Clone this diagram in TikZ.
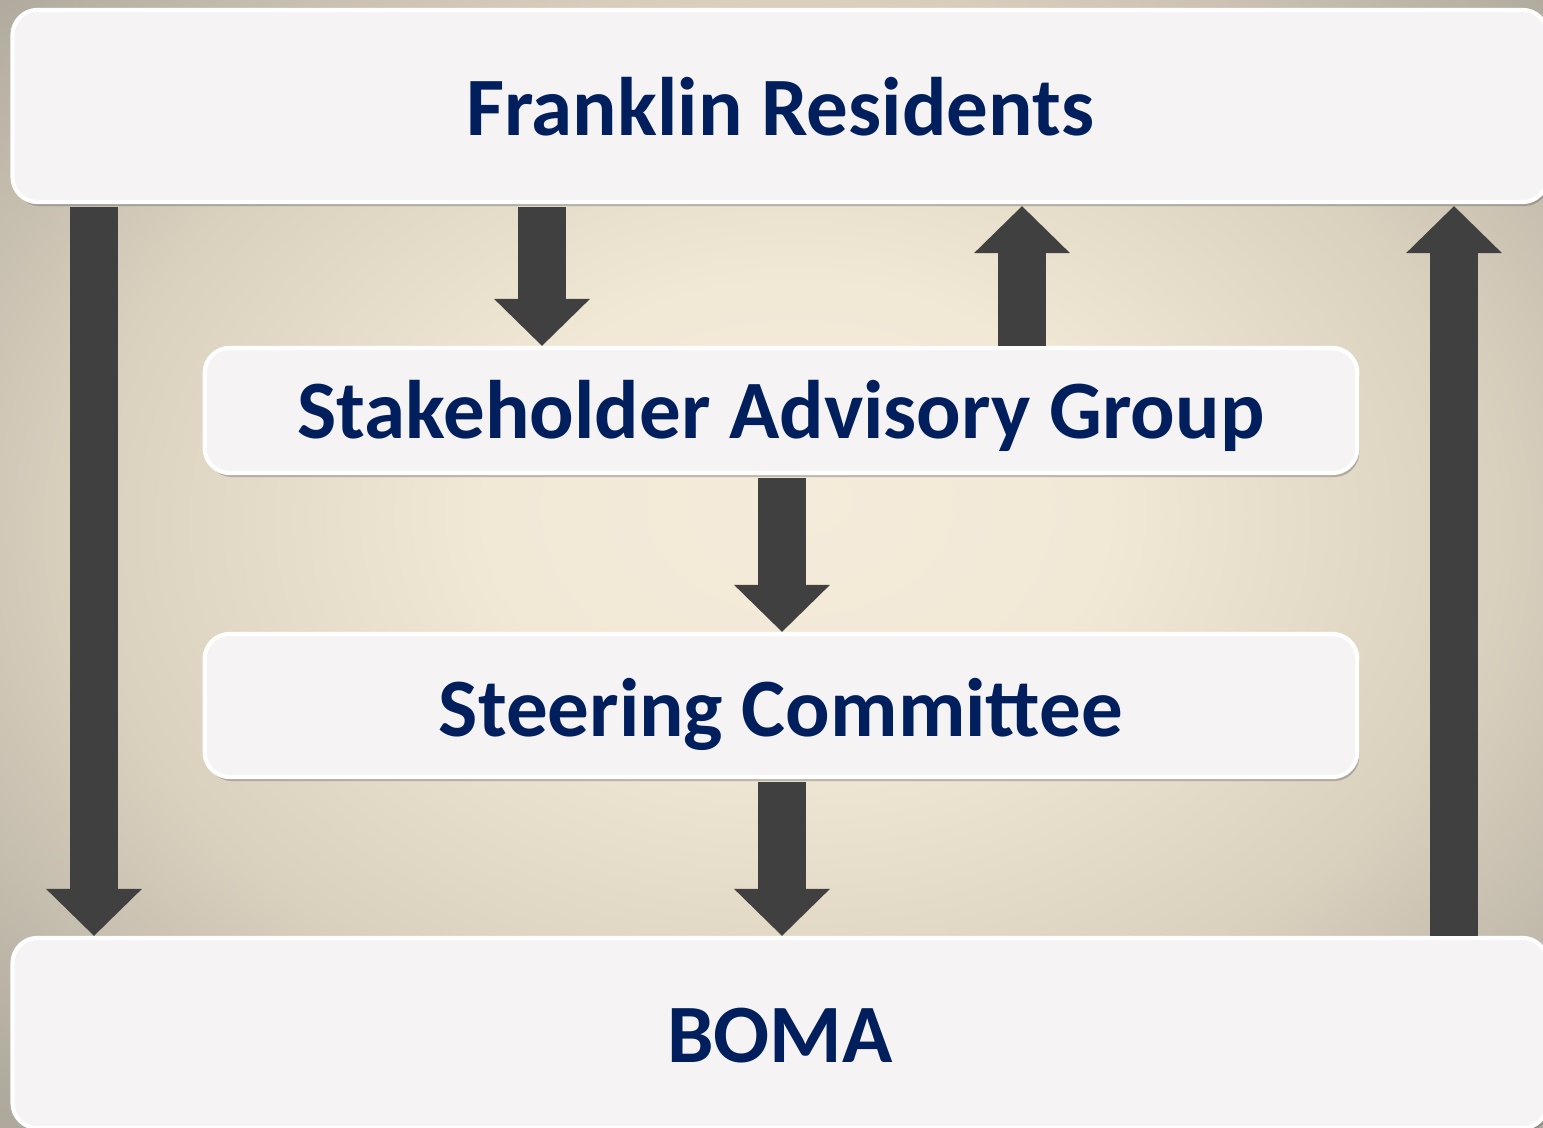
\documentclass[tikz,border=0pt]{standalone}
\usepackage{fontspec}
\setmainfont{Carlito}
\usetikzlibrary{arrows.meta,shadows}
\definecolor{bgin}{HTML}{F5EBDA}
\definecolor{bgin2}{HTML}{F2E8D6}
\definecolor{bgmid}{HTML}{DAD0BE}
\definecolor{bgout}{HTML}{B0AA9E}
\definecolor{bgcorner}{HTML}{98938A}
\definecolor{boxfill}{HTML}{F5F3F4}
\definecolor{txt}{HTML}{001F5C}
\definecolor{arr}{HTML}{404040}
\pgfdeclareradialshading{bgshade}{\pgfpoint{1bp}{3bp}}{color(0bp)=(bgin); color(10bp)=(bgin2); color(23bp)=(bgmid); color(35bp)=(bgout); color(50bp)=(bgcorner)}
\tikzset{
  panel/.style={fill=boxfill, draw=white, line width=1.2pt, rounded corners=0.25cm, inner sep=0pt,
    font=\fontsize{23.6}{28}\selectfont\bfseries, text=txt, text depth=0pt,
    drop shadow={shadow xshift=0.02cm, shadow yshift=-0.04cm, opacity=0.4, fill=black!60}},
  bigarrow/.style={draw=arr, line width=0.48cm,
    -{Triangle[length=0.47cm, width=0.96cm, line width=0pt, fill=arr]}}
}
\begin{document}
\begin{tikzpicture}[x=0.01cm, y=-0.01cm]
\useasboundingbox (0,0) rectangle (1543,1128);
\shade[shading=bgshade] (0,0) rectangle (1543,1128);
\node[panel, text height=0.59cm, minimum width=15.34cm, minimum height=1.92cm] (top) at (780,106) {Franklin Residents};
\node[panel, text height=0.56cm, minimum width=11.52cm, minimum height=1.25cm] (stake) at (781,410.5) {Stakeholder Advisory Group};
\node[panel, text height=0.62cm, minimum width=11.52cm, minimum height=1.43cm] (steer) at (781,705.5) {Steering Committee};
\node[panel, text height=0.58cm, minimum width=15.34cm, minimum height=1.90cm] (boma) at (780,1033) {BOMA};
\coordinate (xl) at (94,0);
\coordinate (xa) at (542,0);
\coordinate (xb) at (1022,0);
\coordinate (xc) at (782,0);
\coordinate (xr) at (1454,0);
\draw[bigarrow] ([yshift=-0.03cm]top.south -| xl) -- (boma.north -| xl);
\draw[bigarrow] ([yshift=-0.03cm]top.south -| xa) -- (stake.north -| xa);
\draw[bigarrow] (stake.north -| xb) -- ([yshift=-0.02cm]top.south -| xb);
\draw[bigarrow] ([yshift=-0.03cm]stake.south -| xc) -- (steer.north -| xc);
\draw[bigarrow] ([yshift=-0.03cm]steer.south -| xc) -- (boma.north -| xc);
\draw[bigarrow] (boma.north -| xr) -- ([yshift=-0.02cm]top.south -| xr);
\end{tikzpicture}
\end{document}
